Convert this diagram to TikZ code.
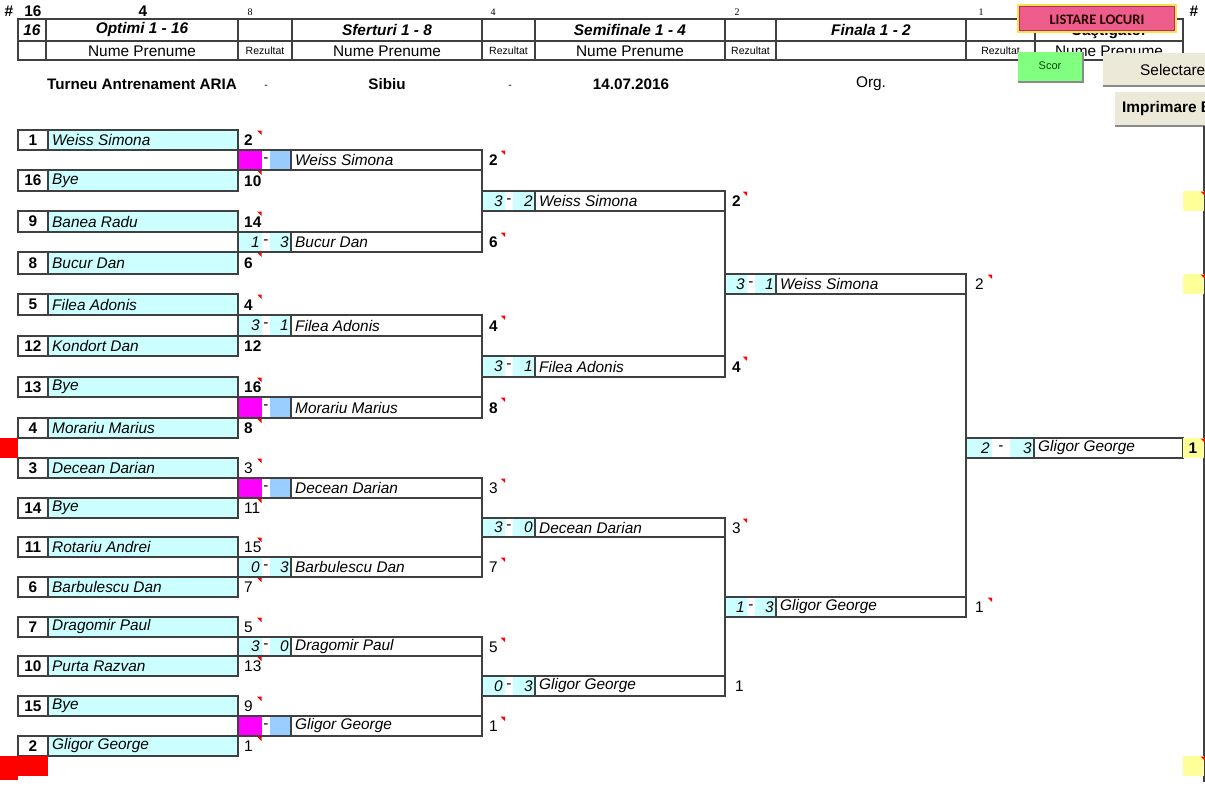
\documentclass[tikz,border=0pt]{standalone}
\usepackage{fontspec}
\setmainfont{Liberation Sans}
\newfontfamily\serf{Liberation Serif}
\newfontfamily\calib{Carlito}
\definecolor{linec}{HTML}{404040}
\definecolor{cyanc}{HTML}{CCFFFF}
\definecolor{magc}{HTML}{FF00FF}
\definecolor{bluec}{HTML}{99CCFF}
\definecolor{yelc}{HTML}{FFFF99}
\definecolor{pinkc}{HTML}{EE5C8C}
\definecolor{pinkd}{HTML}{B03060}
\definecolor{goldc}{HTML}{FFE14A}
\definecolor{btnc}{HTML}{ECE9D8}
\definecolor{grnc}{HTML}{80FF80}
\definecolor{shadc}{HTML}{8A8A8A}
\newcommand\fs{\fontsize{15.4}{17}\selectfont}
\newcommand\rz{\fontsize{10.5}{12}\selectfont}
\tikzset{
 bx/.style={draw=linec, line width=1.1pt, inner sep=0pt, outer sep=0pt, anchor=north west},
 conn/.style={draw=linec, line width=1.1pt},
 nm/.style={font=\fs\itshape, inner sep=0pt, anchor=west},
 sd/.style={font=\fs\bfseries, inner sep=0pt},
 sc/.style={font=\fs, inner sep=0pt, anchor=west},
 ms/.style={font=\fs\itshape, inner sep=0pt, anchor=east},
 hd/.style={font=\fs\bfseries\itshape, inner sep=0pt},
 hn/.style={font=\fs, inner sep=0pt},
 tt/.style={font=\fontsize{15.2}{17}\selectfont\bfseries, inner sep=0pt},
 topn/.style={font=\serf\fontsize{10}{12}\selectfont, inner sep=0pt},
}
\newcommand\tri[2]{\fill[red] ({#1-4.5},{#2+0.5}) -- ({#1},{#2+0.5}) -- ({#1},{#2+5}) -- cycle;}
% player: id, top, bottom, seed, name, score
\newcommand\pl[6]{%
 \node[bx, minimum width=30pt, minimum height={(#3-#2)*1pt}] (#1s) at (18,#2) {};
 \node[sd] (#1d) at (33,{(#2+#3)/2}) {#4};
 \node[bx, fill=cyanc, minimum width=190pt, minimum height={(#3-#2)*1pt}] (#1) at (48,#2) {};
 \node[nm] (#1n) at (52,{(#2+#3)/2}) {#5};
 \node[sc] (#1r) at (244,{(#2+#3)/2+0.5}) {#6};
}
\newcommand\geo[5]{\def\gA{#1}\def\gB{#2}\def\gC{#3}\def\gD{#4}\def\gE{#5}}
% match: id, geometry, top, bottom, s1, s2, name, fill1, fill2
\newcommand\mt[9]{%
 #2%
 \fill[#8] (\gA,#3) rectangle (\gB,#4);
 \fill[#9] (\gC,#3) rectangle (\gD,#4);
 \node[bx, minimum width={(\gE-\gA)*1pt}, minimum height={(#4-#3)*1pt}] (#1) at (\gA,#3) {};
 \draw[conn] (\gD,#3) -- (\gD,#4);
 \node[ms] (#1a) at ({\gB-2},{(#3+#4)/2}) {#5};
 \node[sc, anchor=center] (#1m) at ({(\gB+\gC)/2},{(#3+#4)/2}) {-};
 \node[ms] (#1b) at ({\gD-2},{(#3+#4)/2}) {#6};
 \node[nm] (#1n) at ({\gD+4},{(#3+#4)/2}) {#7};
}
\begin{document}
\begin{tikzpicture}[x=1pt, y=-1pt]
\clip (0,0) rectangle (1205,800);
\fill[white] (0,0) rectangle (1205,800);

% ---------- top numbers
\node[font=\fs\bfseries, inner sep=0pt] (hash1) at (9,11) {\#};
\node[font=\fs\bfseries, inner sep=0pt] (n16) at (33,11) {16};
\node[font=\fs\bfseries, inner sep=0pt] (n4a) at (143,11) {4};
\node[topn] (n8) at (250,12) {8};
\node[topn] (n4b) at (493,12) {4};
\node[topn] (n2) at (737,12) {2};
\node[topn] (n1) at (981,12) {1};
\node[font=\fs\bfseries, inner sep=0pt] (hash2) at (1194,11) {\#};

% ---------- header table
\foreach \a/\b/\t/\u [count=\i] in {18/46/{16}/{},46/238/{Optimi 1 - 16}/{Nume Prenume},238/292/{}/{\rz Rezultat},292/482/{Sferturi 1 - 8}/{Nume Prenume},482/535/{}/{\rz Rezultat},535/725/{Semifinale 1 - 4}/{Nume Prenume},725/776/{}/{\rz Rezultat},776/966/{Finala 1 - 2}/{},966/1035/{}/{\rz Rezultat},1035/1183/{}/{Nume Prenume}}{
 \node[bx, minimum width={(\b-\a)*1pt}, minimum height=22pt] (ha\i) at (\a,19) {};
 \node[hd] (hat\i) at ({(\a+\b)/2},30) {\t};
 \node[bx, minimum width={(\b-\a)*1pt}, minimum height=19pt] (hb\i) at (\a,41) {};
 \node[hn] (hbt\i) at ({(\a+\b)/2},51) {\u};
}
\node[font=\fs\bfseries, inner sep=0pt] (castig) at (1109,31) {Câştigător};

% ---------- title row
\node[tt] (t1) at (142,84) {Turneu Antrenament ARIA};
\node[font=\rz, inner sep=0pt] (t2) at (266,87) {-};
\node[tt] (t3) at (387,84) {Sibiu};
\node[font=\rz, inner sep=0pt] (t4) at (510,87) {-};
\node[tt] (t5) at (631,84) {14.07.2016};
\node[hn] (t6) at (871,84) {Org.};

% ---------- buttons
\node[bx, draw=none, fill=goldc, minimum width=160pt, minimum height=29pt] (blist) at (1017,4) {};
\node[bx, draw=pinkd, line width=0.6pt, fill=pinkc, minimum width=155pt, minimum height=24pt] (blisti) at (1019.5,6.5) {};
\node[font=\calib\fontsize{14.5}{16}\selectfont\bfseries, text=black!85!red, inner sep=0pt] (blistt) at (1097,19.5) {LISTARE LOCURI};
\node[bx, draw=none, fill=grnc, minimum width=65pt, minimum height=30pt] (bscor) at (1018,52) {};
\draw[shadc, line width=1.5pt] (bscor.south west) -- (bscor.south east) -- (bscor.north east);
\node[font=\fontsize{11}{13}\selectfont, text=black!70!green, inner sep=0pt] (bscort) at (1050,66) {Scor};
\node[bx, draw=none, fill=btnc, minimum width=110pt, minimum height=33pt] (bsel) at (1103,53) {};
\draw[shadc, line width=1.5pt] (bsel.south west) -- (bsel.south east);
\node[hn, anchor=west] (bselt) at (1140,70) {Selectare};
\node[bx, draw=none, fill=btnc, minimum width=100pt, minimum height=34pt] (bimp) at (1115,92) {};
\draw[shadc, line width=1.5pt] (bimp.south west) -- (bimp.south east);
\node[font=\fs\bfseries, inner sep=0pt, anchor=west] (bimpt) at (1122,109) {Imprimare B};
\coordinate (rt) at (1204,126);
\coordinate (rb) at (1204,782);
\draw[conn] (rt) -- (rb);

% ---------- round 1
\pl{p1}{130}{150}{1}{Weiss Simona}{\bfseries 2}
\pl{p2}{170}{191}{16}{Bye}{\bfseries 10}
\pl{p3}{211}{232}{9}{Banea Radu}{\bfseries 14}
\pl{p4}{252}{274}{8}{Bucur Dan}{\bfseries 6}
\pl{p5}{294}{315}{5}{Filea Adonis}{\bfseries 4}
\pl{p6}{336}{356}{12}{Kondort Dan}{\bfseries 12}
\pl{p7}{377}{397}{13}{Bye}{\bfseries 16}
\pl{p8}{418}{438}{4}{Morariu Marius}{\bfseries 8}
\pl{p9}{458}{478}{3}{Decean Darian}{3}
\pl{p10}{498}{518}{14}{Bye}{11}
\pl{p11}{537}{557}{11}{Rotariu Andrei}{15}
\pl{p12}{577}{597}{6}{Barbulescu Dan}{7}
\pl{p13}{617}{637}{7}{Dragomir Paul}{5}
\pl{p14}{656}{676}{10}{Purta Razvan}{13}
\pl{p15}{696}{716}{15}{Bye}{9}
\pl{p16}{736}{756}{2}{Gligor George}{1}
\foreach \y in {130,170,211,252,294,377,418,458,498,537,577,617,656,696,736}{\tri{261.5}{\y}}

% ---------- round 2
\mt{q1}{\geo{238}{262}{270}{291}{482}}{150}{170}{}{}{Weiss Simona}{magc}{bluec}
\mt{q2}{\geo{238}{262}{270}{291}{482}}{232}{252}{1}{3}{Bucur Dan}{cyanc}{cyanc}
\mt{q3}{\geo{238}{262}{270}{291}{482}}{315}{336}{3}{1}{Filea Adonis}{cyanc}{cyanc}
\mt{q4}{\geo{238}{262}{270}{291}{482}}{397}{418}{}{}{Morariu Marius}{magc}{bluec}
\mt{q5}{\geo{238}{262}{270}{291}{482}}{478}{498}{}{}{Decean Darian}{magc}{bluec}
\mt{q6}{\geo{238}{262}{270}{291}{482}}{557}{577}{0}{3}{Barbulescu Dan}{cyanc}{cyanc}
\mt{q7}{\geo{238}{262}{270}{291}{482}}{637}{656}{3}{0}{Dragomir Paul}{cyanc}{cyanc}
\mt{q8}{\geo{238}{262}{270}{291}{482}}{716}{736}{}{}{Gligor George}{magc}{bluec}
\node[sc] (q1r) at (489,160.5) {\bfseries 2};
\node[sc] (q2r) at (489,242.5) {\bfseries 6};
\node[sc] (q3r) at (489,326) {\bfseries 4};
\node[sc] (q4r) at (489,408) {\bfseries 8};
\node[sc] (q5r) at (489,488.5) {3};
\node[sc] (q6r) at (489,567.5) {7};
\node[sc] (q7r) at (489,647) {5};
\node[sc] (q8r) at (489,726.5) {1};
\foreach \y in {150,232,315,397,478,557,637,716}{\tri{505}{\y}}

% ---------- round 3
\mt{s1}{\geo{482}{505}{513}{535}{725}}{191}{211}{3}{2}{Weiss Simona}{cyanc}{cyanc}
\mt{s2}{\geo{482}{505}{513}{535}{725}}{356}{377}{3}{1}{Filea Adonis}{cyanc}{cyanc}
\mt{s3}{\geo{482}{505}{513}{535}{725}}{518}{537}{3}{0}{Decean Darian}{cyanc}{cyanc}
\mt{s4}{\geo{482}{505}{513}{535}{725}}{676}{696}{0}{3}{Gligor George}{cyanc}{cyanc}
\node[sc] (s1r) at (732,201.5) {\bfseries 2};
\node[sc] (s2r) at (732,367) {\bfseries 4};
\node[sc] (s3r) at (732,528) {3};
\node[sc] (s4r) at (735,686.5) {1};
\foreach \y in {191,356,518}{\tri{747}{\y}}

% ---------- round 4
\mt{t1}{\geo{725}{747}{755}{776}{966}}{274}{294}{3}{1}{Weiss Simona}{cyanc}{cyanc}
\mt{t2}{\geo{725}{747}{755}{776}{966}}{597}{617}{1}{3}{Gligor George}{cyanc}{cyanc}
\node[sc] (t1r) at (975,284.5) {2};
\node[sc] (t2r) at (975,607.5) {1};
\foreach \y in {274,597}{\tri{992}{\y}}

% ---------- final
\mt{f}{\geo{966}{992}{1010}{1034}{1183}}{438}{458}{2}{3}{Gligor George}{cyanc}{cyanc}
\foreach \y/\z in {191/211,274/294,438/458,756/776}{\fill[yelc] (1183,\y) rectangle (1204,\z); \tri{1205}{\y}}
\node[sd] (win) at (1193,448.5) {1};

% ---------- connectors
\foreach \a/\b in {p1/p2,p3/p4,p5/p6,p7/p8,p9/p10,p11/p12,p13/p14,p15/p16,q1/q2,q3/q4,q5/q6,q7/q8,s1/s2,s3/s4,t1/t2}{
 \draw[conn] (\a.north east) -- (\b.south east);
}

% ---------- red marks
\fill[red] (0,438) rectangle (18,458);
\fill[red] (0,756) rectangle (48,776);
\fill[red] (0,776) rectangle (18,780);
\end{tikzpicture}
\end{document}
